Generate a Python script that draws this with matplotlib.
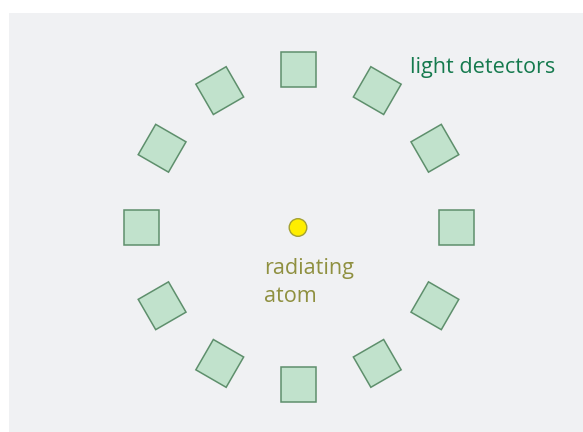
import numpy as np
import matplotlib
matplotlib.use("Agg")
import matplotlib.pyplot as plt
from matplotlib.patches import Rectangle, Circle, Polygon

# Data
detector_angles_deg = [0, 30, 60, 90, 120, 150, 180, 210, 240, 270, 300, 330]
detector_label = "light detectors"
atom_label_lines = ["radiating", "atom"]

W, H = 583, 432
fig = plt.figure(figsize=(W / 100, H / 100), dpi=100)
ax = fig.add_axes([0, 0, 1, 1])
ax.set_xlim(0, W)
ax.set_ylim(H, 0)
ax.axis("off")

# background panel
ax.add_patch(Rectangle((9, 13), W - 9, H - 13, facecolor="#f0f1f3", edgecolor="none", zorder=0))

cx, cy, R = 298.5, 227, 157.5
side = 35
for a in detector_angles_deg:
    t = np.deg2rad(a)
    px = cx + R * np.sin(t)
    py = cy - R * np.cos(t)
    h = side / 2
    corners = np.array([[-h, -h], [h, -h], [h, h], [-h, h]])
    c, s = np.cos(t), np.sin(t)
    rot = np.array([[c, -s], [s, c]])
    pts = corners @ rot.T + [px, py]
    ax.add_patch(Polygon(pts, closed=True, facecolor="#c1e2cc", edgecolor="#5e8f6c", linewidth=1.1, zorder=2))

# atom
ax.add_patch(Circle((cx - 0.5, cy + 0.5), 8.8, facecolor="#ffee00", edgecolor="#a4a132", linewidth=1.0, zorder=3))

for i, line in enumerate(atom_label_lines):
    ax.text(264, 274 + 28 * i, line, ha="left", va="baseline", color="#8f9040",
            fontsize=15.6, family="Open Sans")
ax.text(410, 73, detector_label, ha="left", va="baseline", color="#157a4e",
        fontsize=15.6, family="Open Sans")

fig.savefig("out.png", dpi=100, facecolor="white")
